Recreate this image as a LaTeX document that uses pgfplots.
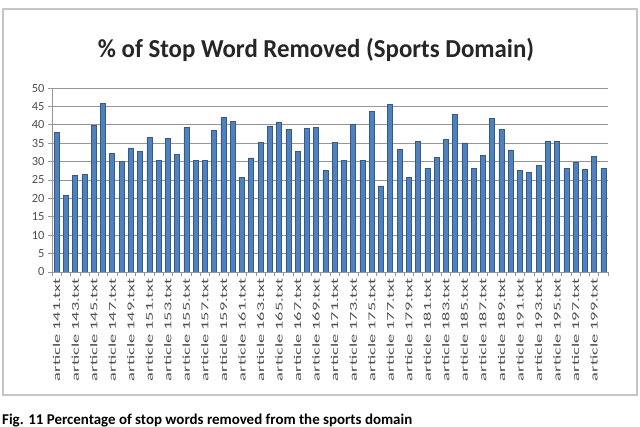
\documentclass[border=0pt]{standalone}
\usepackage{pgfplots}
\pgfplotsset{compat=1.18}
\usepackage{fontspec}
\setmainfont{Carlito}
\definecolor{barfill}{RGB}{79,129,189}
\definecolor{barline}{RGB}{52,90,140}
\definecolor{gridc}{RGB}{150,150,150}
\definecolor{tickc}{RGB}{80,80,80}
\newcommand\lab[1]{\scalebox{1.75}[1]{article #1.txt}}
\begin{document}
\begin{tikzpicture}
\useasboundingbox (0bp,0bp) rectangle (640bp,427bp);
\fill[white] (0bp,0bp) rectangle (640bp,427bp);
\draw[gray!45, line width=1.5bp] (3bp,32bp) rectangle (637bp,418bp);
\node[anchor=center, font={\fontsize{26}{30}\selectfont\bfseries}, text=black!85] at (316bp,377bp) {\scalebox{0.96}[1]{\% of Stop Word Removed (Sports Domain)}};
\node[anchor=base west, font={\fontsize{15}{17}\selectfont\bfseries}, inner sep=0pt] at (2bp,3bp) {Fig. 11 Percentage of stop words removed from the sports domain};
\begin{axis}[
  at={(52bp,155bp)}, anchor=south west,
  width=556bp, height=184bp, scale only axis,
  xmin=-0.5, xmax=59.5, ymin=0, ymax=50,
  ybar, bar width=5bp,
  axis lines*=left,
  axis line style={gridc, line width=0.8bp},
  ytick={0,5,...,50},
  ymajorgrids, grid style={gridc, line width=0.8bp},
  xtick={0,2,...,58},
  xticklabels={\lab{141},\lab{143},\lab{145},\lab{147},\lab{149},\lab{151},\lab{153},\lab{155},\lab{157},\lab{159},\lab{161},\lab{163},\lab{165},\lab{167},\lab{169},\lab{171},\lab{173},\lab{175},\lab{177},\lab{179},\lab{181},\lab{183},\lab{185},\lab{187},\lab{189},\lab{191},\lab{193},\lab{195},\lab{197},\lab{199}},
  major x tick style={draw=none},
  minor xtick={-0.5,0.5,...,59.5},
  minor x tick style={gridc, line width=0.6bp},
  minor tick length=4bp,
  major tick length=4bp,
  ytick style={gridc, line width=0.8bp},
  tick align=outside,
  x tick label style={rotate=90, anchor=east, font={\fontsize{10.5}{12}\selectfont}, text=tickc, inner sep=2bp},
  y tick label style={font={\fontsize{12.5}{14}\selectfont}, text=tickc},
  /pgf/number format/assume math mode=true,
]
\addplot[fill=barfill, draw=barline, line width=0.6bp] coordinates {
(0,38) (1,20.8) (2,26.3) (3,26.5) (4,39.8) (5,45.9) (6,32.3) (7,30) (8,33.7) (9,32.8)
(10,36.5) (11,30.4) (12,36.2) (13,32) (14,39.4) (15,30.4) (16,30.4) (17,38.4) (18,42) (19,41)
(20,25.6) (21,31) (22,35.2) (23,39.7) (24,40.8) (25,38.8) (26,32.7) (27,39) (28,39.2) (29,27.6)
(30,35.2) (31,30.4) (32,40.1) (33,30.4) (34,43.7) (35,23.4) (36,45.5) (37,33.3) (38,25.6) (39,35.5)
(40,28.2) (41,31.1) (42,36) (43,42.8) (44,35.1) (45,28.2) (46,31.7) (47,41.8) (48,38.8) (49,33.2)
(50,27.7) (51,27.1) (52,29) (53,35.5) (54,35.5) (55,28.2) (56,29.9) (57,28) (58,31.5) (59,28.2)
};
\end{axis}
\end{tikzpicture}
\end{document}
